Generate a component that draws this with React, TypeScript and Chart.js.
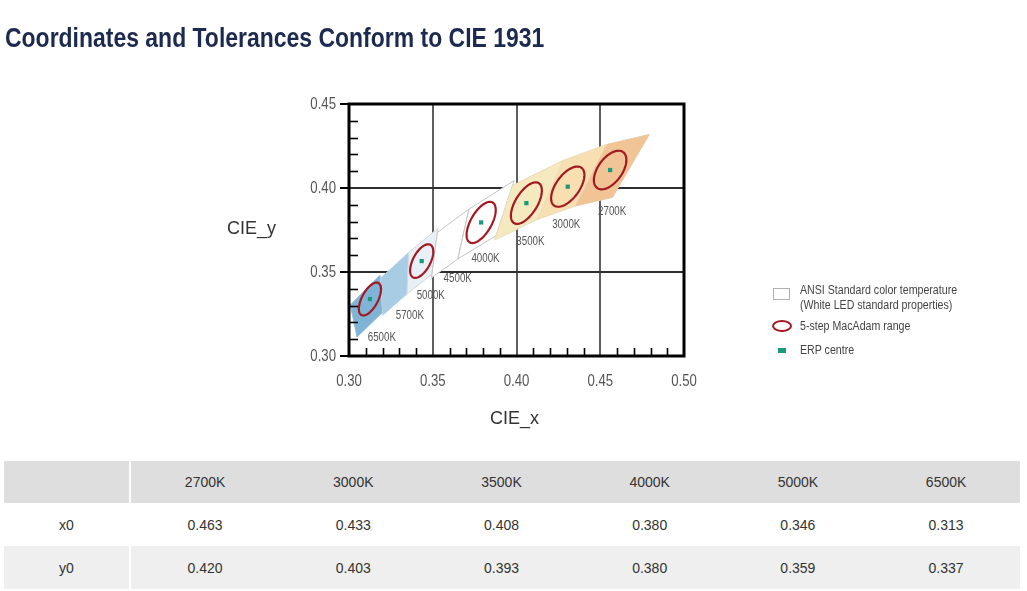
import React, { useEffect, useRef } from "react";
import { Chart, registerables } from "chart.js";

Chart.register(...registerables);

// ---- data ----
const cctLabels = ["2700K", "3000K", "3500K", "4000K", "4500K", "5000K", "5700K", "6500K"];

// quadrangle corners per CCT (4 corners each)
const quadX = [
  [0.4793, 0.4542, 0.4353, 0.4573],
  [0.4542, 0.4279, 0.4127, 0.4353],
  [0.4279, 0.3976, 0.3869, 0.4127],
  [0.3986, 0.3716, 0.365, 0.3878],
  [0.3716, 0.3528, 0.3492, 0.365],
  [0.3531, 0.3356, 0.3346, 0.3495],
  [0.3356, 0.3187, 0.3202, 0.3346],
  [0.3185, 0.3008, 0.3048, 0.3201],
];
const quadY = [
  [0.4319, 0.426, 0.3893, 0.3944],
  [0.426, 0.4165, 0.3814, 0.3893],
  [0.4165, 0.4015, 0.369, 0.3814],
  [0.4044, 0.3874, 0.3578, 0.3716],
  [0.3874, 0.3736, 0.3465, 0.3578],
  [0.376, 0.3616, 0.3369, 0.3487],
  [0.3616, 0.3462, 0.3243, 0.3369],
  [0.3481, 0.3304, 0.3113, 0.3261],
];

// CCT label anchors (data coordinates)
const labelX = [0.4571, 0.4297, 0.4083, 0.3815, 0.3649, 0.3488, 0.3363, 0.3196];
const labelY = [0.3857, 0.378, 0.3684, 0.3583, 0.3464, 0.3357, 0.3238, 0.3107];

// 5-step MacAdam ellipses and ERP centres
const ellipseCct = ["2700K", "3000K", "3500K", "4000K", "5000K", "6500K"];
const centreX = [0.4559, 0.4306, 0.4059, 0.3789, 0.3434, 0.3125];
const centreY = [0.4107, 0.4008, 0.391, 0.3795, 0.3565, 0.3339];
const ellipseA = [0.0132, 0.0139, 0.014, 0.0137, 0.011, 0.0108];
const ellipseB = [0.0072, 0.007, 0.0065, 0.0062, 0.0052, 0.0048];
const ellipseAngle = [54, 54, 58, 60, 62, 62];

// axis ranges / ticks
const xRange = [0.3, 0.5];
const yRange = [0.3, 0.45];
const majorStep = 0.05;

// table
const tableCct = ["2700K", "3000K", "3500K", "4000K", "5000K", "6500K"];
const tableX0 = ["0.463", "0.433", "0.408", "0.380", "0.346", "0.313"];
const tableY0 = ["0.420", "0.403", "0.393", "0.380", "0.359", "0.337"];

// ---- styles ----
const quadFill = ["#f1c496", "#f7dfb1", "#f5eabf", "#ffffff", "#ffffff", "#e8f0f6", "#a8cce3", "#7fb4d7"];
const quadEdge = ["#e9c9a4", "#eadbb8", "#e6dcb8", "#c4c4c4", "#c4c4c4", "#cfd8de", "#b9d3e2", "#8fbcd9"];
const SANS = '"Liberation Sans", Arial, sans-serif';
const RED = "#a3191f";
const GREEN = "#1a9a7a";

function narrowText(ctx: CanvasRenderingContext2D, text: string, x: number, y: number, align: CanvasTextAlign, size: number, squeeze: number, color: string) {
  ctx.save();
  ctx.font = `${size}px ${SANS}`;
  ctx.fillStyle = color;
  ctx.textAlign = align;
  ctx.textBaseline = "middle";
  ctx.translate(x, y);
  ctx.scale(squeeze, 1);
  ctx.fillText(text, 0, 0);
  ctx.restore();
}

const overlayPlugin = {
  id: "cieOverlay",
  afterDatasetsDraw(chart: any) {
    const { ctx, chartArea: ca } = chart;
    const xs = chart.scales.x;
    const ys = chart.scales.y;
    ctx.save();
    ctx.beginPath();
    ctx.rect(ca.left, ca.top, ca.right - ca.left, ca.bottom - ca.top);
    ctx.clip();
    ctx.strokeStyle = RED;
    ctx.lineWidth = 2.2;
    for (let i = 0; i < centreX.length; i++) {
      const th = (ellipseAngle[i] * Math.PI) / 180;
      ctx.beginPath();
      const n = 96;
      for (let k = 0; k <= n; k++) {
        const t = (k / n) * Math.PI * 2;
        const dx = ellipseA[i] * Math.cos(t) * Math.cos(th) - ellipseB[i] * Math.sin(t) * Math.sin(th);
        const dy = ellipseA[i] * Math.cos(t) * Math.sin(th) + ellipseB[i] * Math.sin(t) * Math.cos(th);
        const px = xs.getPixelForValue(centreX[i] + dx);
        const py = ys.getPixelForValue(centreY[i] + dy);
        if (k === 0) ctx.moveTo(px, py);
        else ctx.lineTo(px, py);
      }
      ctx.closePath();
      ctx.stroke();
    }
    ctx.restore();
    for (let i = 0; i < cctLabels.length; i++) {
      narrowText(ctx, cctLabels[i], xs.getPixelForValue(labelX[i]), ys.getPixelForValue(labelY[i]), "center", 12.5, 0.78, "#555");
    }
  },
  afterDraw(chart: any) {
    const { ctx, chartArea: ca } = chart;
    const xs = chart.scales.x;
    const ys = chart.scales.y;
    ctx.save();
    ctx.strokeStyle = "#000";
    ctx.lineWidth = 1.6;
    for (let i = 31; i < 50; i++) {
      if (i % 5 === 0) continue;
      const px = Math.round(xs.getPixelForValue(i / 100)) + 0.5;
      ctx.beginPath();
      ctx.moveTo(px, ca.bottom);
      ctx.lineTo(px, ca.bottom - 8);
      ctx.stroke();
    }
    for (let i = 31; i < 45; i++) {
      if (i % 5 === 0) continue;
      const py = Math.round(ys.getPixelForValue(i / 100)) + 0.5;
      ctx.beginPath();
      ctx.moveTo(ca.left, py);
      ctx.lineTo(ca.left + 9, py);
      ctx.stroke();
    }
    ctx.lineWidth = 3;
    ctx.strokeRect(ca.left, ca.top, ca.right - ca.left, ca.bottom - ca.top);
    ctx.restore();
    // tick labels from the library's ticks, drawn condensed
    for (const t of xs.ticks) {
      narrowText(ctx, Number(t.value).toFixed(2), xs.getPixelForValue(t.value), ca.bottom + 25, "center", 16.5, 0.8, "#555");
    }
    for (const t of ys.ticks) {
      narrowText(ctx, Number(t.value).toFixed(2), ca.left - 13, ys.getPixelForValue(t.value), "right", 16.5, 0.8, "#555");
    }
  },
};

function CieChart() {
  const ref = useRef<HTMLCanvasElement | null>(null);
  useEffect(() => {
    if (!ref.current) return;
    const quadSets = cctLabels.map((name, i) => ({
      type: "line" as const,
      label: name,
      data: [0, 1, 2, 3, 0].map((k) => ({ x: quadX[i][k], y: quadY[i][k] })),
      fill: "shape",
      backgroundColor: quadFill[i],
      borderColor: quadEdge[i],
      borderWidth: 1,
      pointRadius: 0,
      tension: 0,
      order: 5,
    }));
    const chart = new Chart(ref.current, {
      type: "scatter",
      data: {
        datasets: [
          {
            type: "scatter" as const,
            label: "ERP centre",
            data: centreX.map((x, i) => ({ x, y: centreY[i] })),
            pointStyle: "rect",
            pointRadius: 3,
            backgroundColor: GREEN,
            borderWidth: 0,
            order: 1,
          },
          ...quadSets,
        ] as any,
      },
      options: {
        responsive: false,
        animation: false,
        devicePixelRatio: 1,
        layout: { padding: { left: 289, right: 343, top: 104, bottom: 54 } },
        plugins: { legend: { display: false }, tooltip: { enabled: false } },
        scales: {
          x: {
            type: "linear",
            min: xRange[0],
            max: xRange[1],
            ticks: { stepSize: majorStep, display: false },
            grid: { color: "#5e5e5e", lineWidth: 2, drawTicks: false },
            border: { display: false },
            afterFit: (s: any) => {
              s.height = 40;
            },
          },
          y: {
            type: "linear",
            min: yRange[0],
            max: yRange[1],
            ticks: { stepSize: majorStep, display: false },
            grid: { color: "#2e2e2e", lineWidth: 2, tickLength: 9, tickColor: "#000", tickWidth: 2 },
            border: { display: false },
            afterFit: (s: any) => {
              s.width = 60;
            },
          },
        },
      } as any,
      plugins: [overlayPlugin],
    });
    return () => chart.destroy();
  }, []);
  return (
    <canvas
      ref={ref}
      width={1027}
      height={450}
      style={{ position: "absolute", left: 0, top: 0, width: 1027, height: 450 }}
    />
  );
}

const abs = (extra: React.CSSProperties): React.CSSProperties => ({ position: "absolute", ...extra });

const legendText = (top: number): React.CSSProperties =>
  abs({
    left: 800,
    top,
    fontFamily: SANS,
    fontSize: 12.5,
    lineHeight: "15px",
    color: "#444",
    whiteSpace: "nowrap",
    transform: "scaleX(0.85)",
    transformOrigin: "0 0",
  });

export default function App() {
  const cellBase: React.CSSProperties = {
    display: "flex",
    alignItems: "center",
    justifyContent: "center",
    fontFamily: SANS,
    fontSize: 14,
    color: "#333",
  };
  const rows = [
    { label: "", values: tableCct, bg: "#dedede", top: 461, h: 42 },
    { label: "x0", values: tableX0, bg: "#ffffff", top: 503, h: 43 },
    { label: "y0", values: tableY0, bg: "#efefef", top: 546, h: 43 },
  ];
  const colW = 148.2;
  return (
    <div style={{ position: "absolute", left: 0, top: 0, width: 1027, height: 591, background: "#fff", overflow: "hidden" }}>
      <CieChart />
      <div
        style={abs({
          left: 5,
          top: 24,
          fontFamily: SANS,
          fontWeight: "bold",
          fontSize: 27.5,
          lineHeight: "28px",
          color: "#1c2a4f",
          whiteSpace: "nowrap",
          transform: "scaleX(0.835)",
          transformOrigin: "0 0",
        })}
      >
        Coordinates and Tolerances Conform to CIE 1931
      </div>
      <div style={abs({ left: 227, top: 218, fontFamily: SANS, fontSize: 18, lineHeight: "20px", color: "#333" })}>CIE_y</div>
      <div style={abs({ left: 490, top: 408, fontFamily: SANS, fontSize: 18, lineHeight: "20px", color: "#333" })}>CIE_x</div>

      {/* legend */}
      <div style={abs({ left: 773, top: 288, width: 17, height: 12, border: "1px solid #b0b0b0", background: "#fff", boxSizing: "border-box" })} />
      <div style={legendText(283)}>
        ANSI Standard color temperature
        <br />
        (White LED standard properties)
      </div>
      <div
        style={abs({ left: 772, top: 320, width: 20, height: 12, border: `2px solid ${RED}`, borderRadius: "50%", boxSizing: "border-box" })}
      />
      <div style={legendText(318.5)}>5-step MacAdam range</div>
      <div style={abs({ left: 778, top: 348, width: 8, height: 5, background: GREEN })} />
      <div style={legendText(342.5)}>ERP centre</div>

      {/* table */}
      {rows.map((r, ri) => (
        <React.Fragment key={ri}>
          <div style={abs({ ...cellBase, left: 4, top: r.top, width: 125, height: r.h, background: r.bg })}>{r.label}</div>
          {r.values.map((v, ci) => (
            <div
              key={ci}
              style={abs({ ...cellBase, left: 131 + ci * colW, top: r.top, width: colW, height: r.h, background: r.bg })}
            >
              {v}
            </div>
          ))}
        </React.Fragment>
      ))}
    </div>
  );
}
